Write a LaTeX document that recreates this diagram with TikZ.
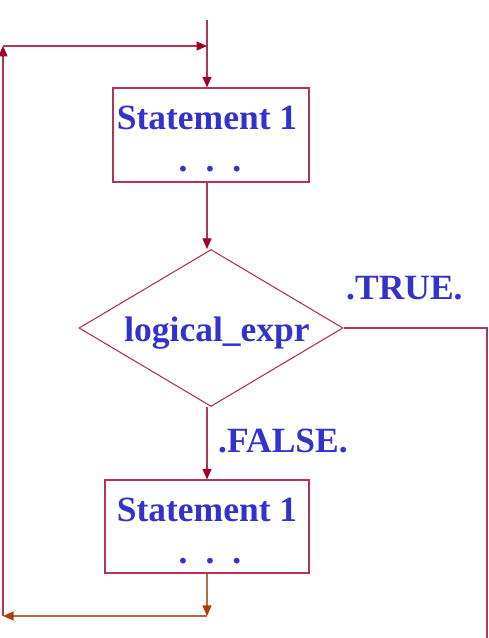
\documentclass[tikz,border=0pt]{standalone}
\usepackage{fontspec}
\setmainfont{Liberation Serif}
\usetikzlibrary{arrows.meta,shapes.geometric}
\definecolor{ln}{RGB}{178,52,84}
\definecolor{tipc}{RGB}{160,0,36}
\definecolor{bln}{RGB}{184,106,64}
\definecolor{btip}{RGB}{168,64,16}
\definecolor{txt}{RGB}{51,51,204}
\begin{document}
\begin{tikzpicture}[x=1pt,y=1pt,
  plain/.style={draw=ln,line width=1.1pt},
  flow/.style={plain,-{Triangle[length=10.5pt,width=9pt,color=tipc]}},
  bflow/.style={draw=bln,line width=1.1pt,-{Triangle[length=10.5pt,width=9pt,color=btip]}},
  stbox/.style={draw=ln,line width=1.1pt,rectangle,inner sep=0pt},
  lbl/.style={text=txt,font=\bfseries\fontsize{35.5}{40}\selectfont,inner sep=0pt},
  dots/.style={lbl}]
\useasboundingbox (0,0) rectangle (489,638);
% boxes and decision
\node[stbox,minimum width=196pt,minimum height=94pt] (box1) at (211,503) {};
\node[diamond,draw=ln,line width=1.1pt,minimum width=264pt,minimum height=157pt,inner sep=0pt] (dia) at (211,310) {};
\node[stbox,minimum width=204pt,minimum height=93pt] (box2) at (207,111.5) {};
% texts
\node[lbl,anchor=base] (t1) at (207,508) {Statement 1};
\node[dots,anchor=base] (d1) at (210,466) {.\hspace{18pt}.\hspace{18pt}.};
\node[lbl,anchor=base] (tx) at (217,296) {logical\_expr};
\node[lbl,anchor=base west] (ttrue) at (346,338) {.TRUE.};
\node[lbl,anchor=base west] (tfalse) at (218,185) {.FALSE.};
\node[lbl,anchor=base] (t2) at (207,116) {Statement 1};
\node[dots,anchor=base] (d2) at (210,74) {.\hspace{18pt}.\hspace{18pt}.};
% coordinates
\coordinate (topin) at (207,618);
\coordinate (rc) at (487,0);
\coordinate (bj) at (207,22);
\coordinate (bl) at (3,22);
\coordinate (tl) at (3,592);
\coordinate (tj) at (207,592);
% connectors
\draw[flow] (topin) -- (topin |- box1.north);
\draw[flow] (box1.south -| topin) -- (dia.north -| topin);
\draw[flow] (dia.south -| topin) -- (topin |- box2.north);
\draw[plain] (dia.east) -| (rc);
\draw[bflow] (box2.south -| topin) -- (bj);
\draw[bflow] (bj) -- (bl);
\draw[flow] (bl) -- (tl);
\draw[flow] (tl) -- (tj);
\end{tikzpicture}
\end{document}
